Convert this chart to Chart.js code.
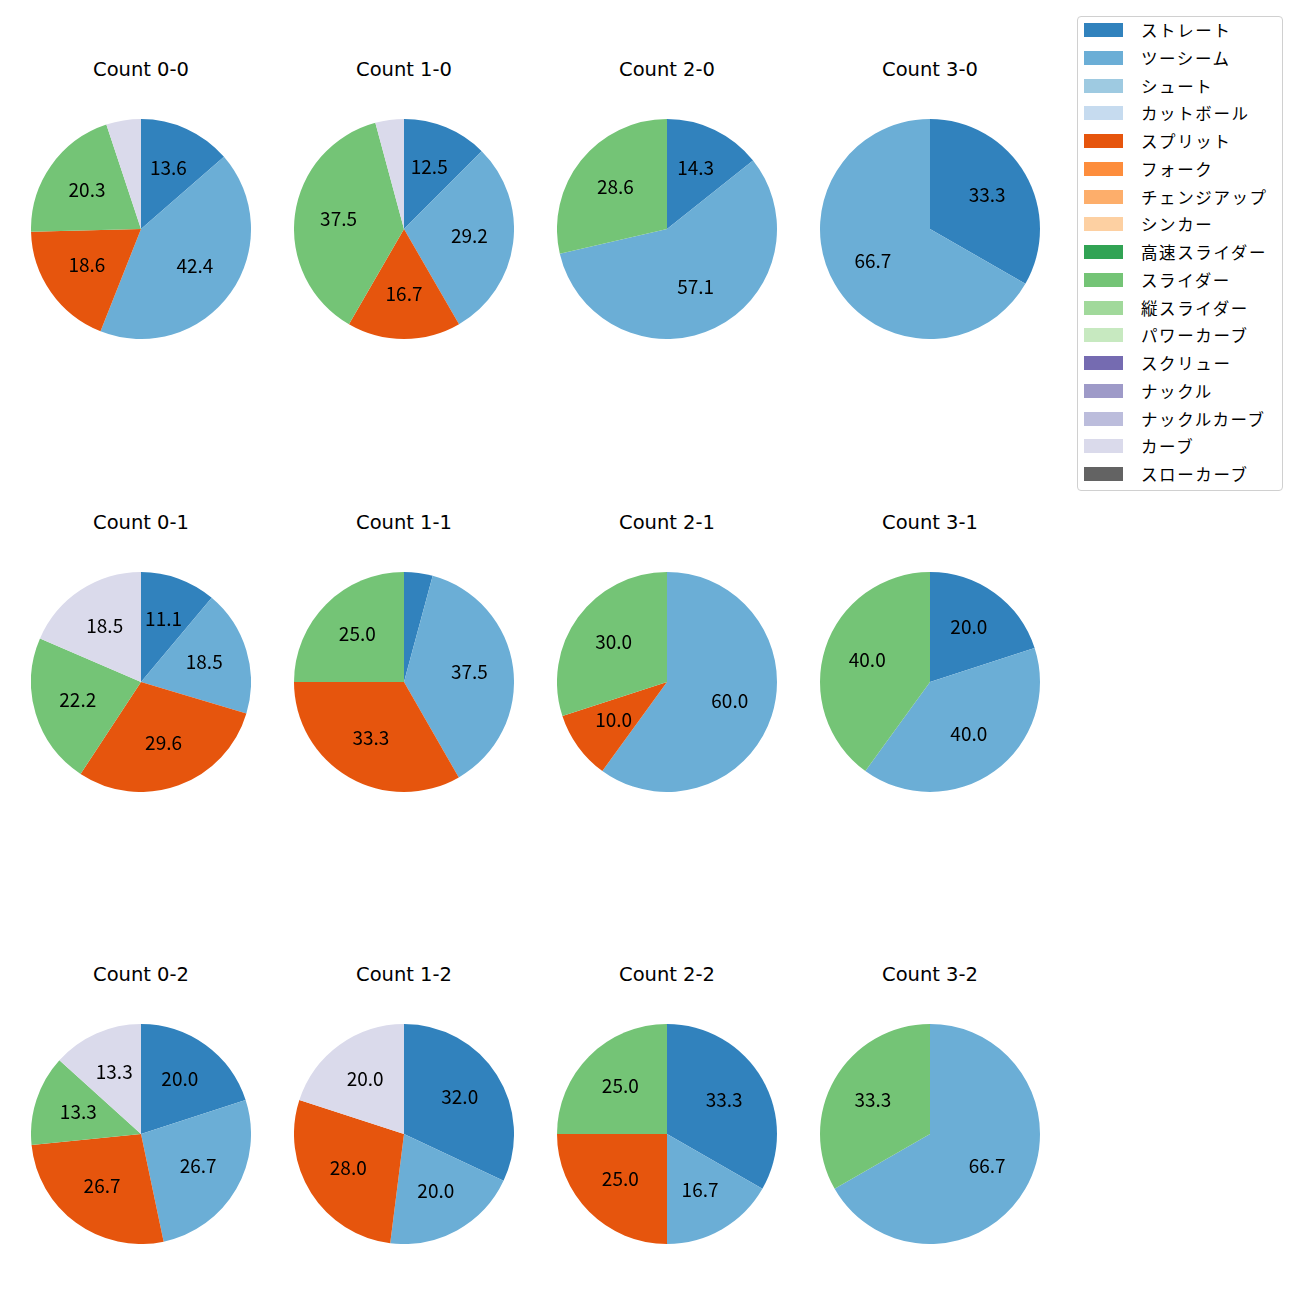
<!DOCTYPE html>
<html>
<head>
<meta charset="utf-8">
<script src="https://cdn.jsdelivr.net/npm/chart.js@4"></script>
<style>
  html, body { margin: 0; padding: 0; background: #fff; }
  body { width: 1300px; height: 1300px; position: relative; overflow: hidden;
         font-family: "Noto Sans CJK JP", "Noto Sans", sans-serif; }
  canvas { position: absolute; }
  .title { position: absolute; width: 200px; text-align: center; font-size: 19.5px; color: #000;
           line-height: 22px; font-family: "DejaVu Sans", sans-serif; }
  #legend { position: absolute; left: 1077px; top: 16px; width: 206px; height: 475px;
            border: 1px solid #d0d0d0; border-radius: 4px; box-sizing: border-box; }
  .lrow { position: absolute; left: 0; height: 22px; }
  .lpatch { position: absolute; left: 6px; top: 4px; width: 39px; height: 14px; }
  .ltext { position: absolute; left: 63px; top: 0; font-size: 16.5px; letter-spacing: 1.6px; line-height: 22px; white-space: nowrap; color: #000; }
</style>
</head>
<body>
<div id="legend"></div>
<script>
// ---- data ----
const pitchTypes = ["ストレート","ツーシーム","シュート","カットボール","スプリット","フォーク","チェンジアップ","シンカー","高速スライダー","スライダー","縦スライダー","パワーカーブ","スクリュー","ナックル","ナックルカーブ","カーブ","スローカーブ"];
const pitchColors = ["#3182bd","#6baed6","#9ecae1","#c6dbef","#e6550d","#fd8d3c","#fdae6b","#fdd0a2","#31a354","#74c476","#a1d99b","#c7e9c0","#756bb1","#9e9ac8","#bcbddc","#dadaeb","#636363"];
const counts = ["Count 0-0","Count 1-0","Count 2-0","Count 3-0","Count 0-1","Count 1-1","Count 2-1","Count 3-1","Count 0-2","Count 1-2","Count 2-2","Count 3-2"];
// percentage per pitch type, one value per count (same order as counts)
const straight = [13.6, 12.5, 14.3, 33.3, 11.1,  4.2,  0.0, 20.0, 20.0, 32.0, 33.3,  0.0];
const twoSeam  = [42.4, 29.2, 57.1, 66.7, 18.5, 37.5, 60.0, 40.0, 26.7, 20.0, 16.7, 66.7];
const splitter = [18.6, 16.7,  0.0,  0.0, 29.6, 33.3, 10.0,  0.0, 26.7, 28.0, 25.0,  0.0];
const slider   = [20.3, 37.5, 28.6,  0.0, 22.2, 25.0, 30.0, 40.0, 13.3,  0.0, 25.0, 33.3];
const curve    = [ 5.1,  4.2,  0.0,  0.0, 18.5,  0.0,  0.0,  0.0, 13.3, 20.0,  0.0,  0.0];
const usedSeries = [
  { name: "ストレート", values: straight },
  { name: "ツーシーム", values: twoSeam },
  { name: "スプリット", values: splitter },
  { name: "スライダー", values: slider },
  { name: "カーブ", values: curve }
];
const labelMin = 8; // slices below this percentage carry no label

// ---- layout ----
const colX = [141, 404, 667, 930];
const rowY = [229, 682, 1134];
const R = 110;

const pctLabels = {
  id: 'pctLabels',
  afterDatasetsDraw(chart) {
    const ctx = chart.ctx;
    const meta = chart.getDatasetMeta(0);
    const data = chart.data.datasets[0].data;
    ctx.save();
    ctx.font = '19px "Noto Sans CJK JP", "Noto Sans", sans-serif';
    ctx.fillStyle = '#000';
    ctx.textAlign = 'center';
    ctx.textBaseline = 'middle';
    meta.data.forEach((arc, i) => {
      const v = data[i];
      if (!(v >= labelMin)) return;
      const p = arc.getProps(['x','y','startAngle','endAngle','outerRadius'], true);
      const a = (p.startAngle + p.endAngle) / 2;
      const r = p.outerRadius * 0.6;
      ctx.fillText(v.toFixed(1), p.x + Math.cos(a) * r, p.y + Math.sin(a) * r - 1.5);
    });
    ctx.restore();
  }
};

counts.forEach((title, k) => {
  const cx = colX[k % 4], cy = rowY[Math.floor(k / 4)];
  const t = document.createElement('div');
  t.className = 'title';
  t.textContent = title;
  t.style.left = (cx - 100) + 'px';
  t.style.top = (cy - 160 - 10) + 'px';
  document.body.appendChild(t);

  const cv = document.createElement('canvas');
  cv.width = 2 * R; cv.height = 2 * R;
  cv.style.left = (cx - R) + 'px';
  cv.style.top = (cy - R) + 'px';
  cv.style.width = 2 * R + 'px';
  cv.style.height = 2 * R + 'px';
  document.body.appendChild(cv);

  const labels = [], vals = [], cols = [];
  usedSeries.forEach(s => {
    const v = s.values[k];
    if (v > 0) {
      labels.push(s.name);
      vals.push(v);
      cols.push(pitchColors[pitchTypes.indexOf(s.name)]);
    }
  });

  new Chart(cv, {
    type: 'pie',
    data: { labels, datasets: [{ data: vals, backgroundColor: cols, borderWidth: 0 }] },
    options: {
      responsive: false,
      animation: false,
      devicePixelRatio: 1,
      layout: { padding: 0 },
      plugins: { legend: { display: false }, tooltip: { enabled: false }, title: { display: false } }
    },
    plugins: [pctLabels]
  });
});

// ---- legend ----
const lg = document.getElementById('legend');
pitchTypes.forEach((name, i) => {
  const row = document.createElement('div');
  row.className = 'lrow';
  row.style.top = (2 + i * 27.75) + 'px';
  const p = document.createElement('div');
  p.className = 'lpatch';
  p.style.background = pitchColors[i];
  const tx = document.createElement('div');
  tx.className = 'ltext';
  tx.textContent = name;
  row.appendChild(p); row.appendChild(tx);
  lg.appendChild(row);
});
</script>
</body>
</html>
